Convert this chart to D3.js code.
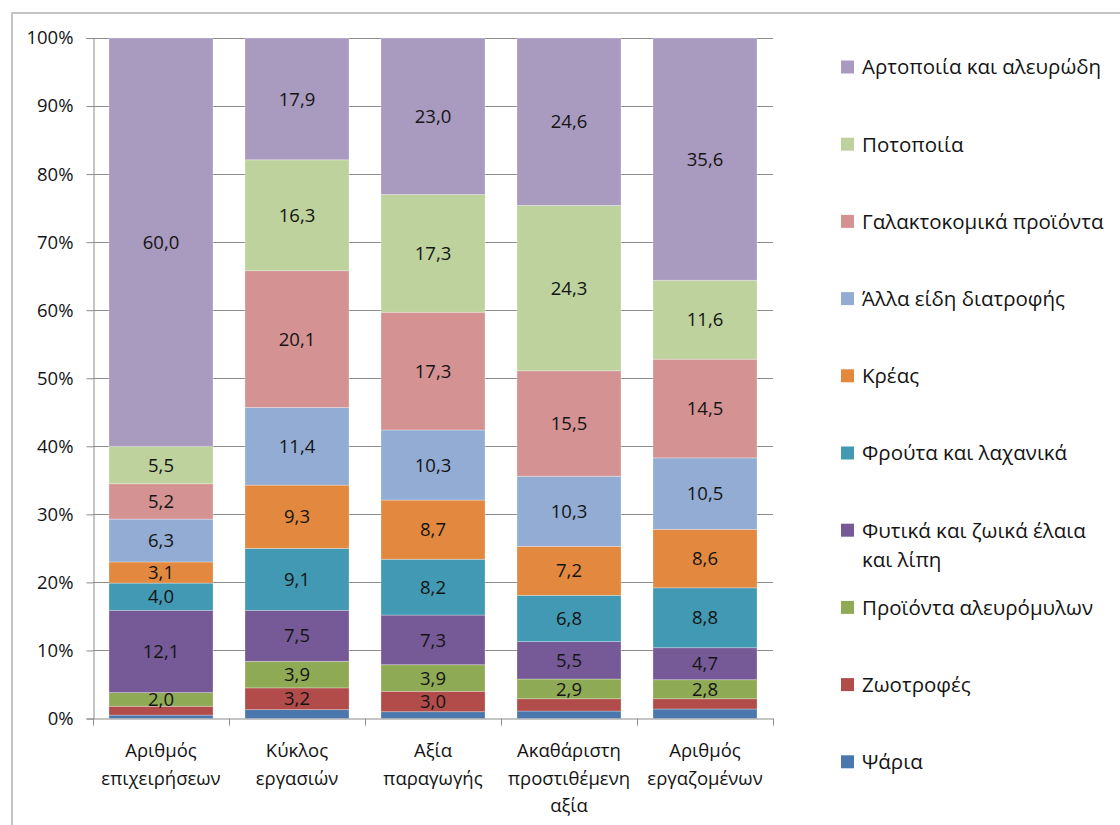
<!DOCTYPE html>
<html>
<head>
<meta charset="utf-8">
<script src="https://cdn.jsdelivr.net/npm/d3@7"></script>
<style>
  html, body { margin: 0; padding: 0; background: #ffffff; }
  svg { display: block; font-family: "Open Sans", "Noto Sans", sans-serif; }
</style>
</head>
<body>
<svg id="chart" width="1120" height="825"></svg>
<script>
// ---- Data ----
const categories = [
  ["Αριθμός", "επιχειρήσεων"],
  ["Κύκλος", "εργασιών"],
  ["Αξία", "παραγωγής"],
  ["Ακαθάριστη", "προστιθέμενη", "αξία"],
  ["Αριθμός", "εργαζομένων"]
];
// series listed bottom -> top of stack
const seriesNames = [
  "Ψάρια",
  "Ζωοτροφές",
  "Προϊόντα αλευρόμυλων",
  "Φυτικά και ζωικά έλαια και λίπη",
  "Φρούτα και λαχανικά",
  "Κρέας",
  "Άλλα είδη διατροφής",
  "Γαλακτοκομικά προϊόντα",
  "Ποτοποιία",
  "Αρτοποιία και αλευρώδη"
];
const psaria        = [0.5, 1.3, 1.0, 1.1, 1.4];
const zootrofes     = [1.3, 3.2, 3.0, 1.8, 1.5];
const aleuromyloi   = [2.0, 3.9, 3.9, 2.9, 2.8];
const elaia         = [12.1, 7.5, 7.3, 5.5, 4.7];
const frouta        = [4.0, 9.1, 8.2, 6.8, 8.8];
const kreas         = [3.1, 9.3, 8.7, 7.2, 8.6];
const alla          = [6.3, 11.4, 10.3, 10.3, 10.5];
const galaktokomika = [5.2, 20.1, 17.3, 15.5, 14.5];
const potopoiia     = [5.5, 16.3, 17.3, 24.3, 11.6];
const artopoiia     = [60.0, 17.9, 23.0, 24.6, 35.6];
const seriesValues = [psaria, zootrofes, aleuromyloi, elaia, frouta, kreas, alla, galaktokomika, potopoiia, artopoiia];
const colors = ["#4a77ad", "#b14c4a", "#8eaa54", "#765a97", "#4199b3", "#e3893f", "#93acd4", "#d49392", "#bdd29c", "#a99ac0"];
const yTicks = [0, 10, 20, 30, 40, 50, 60, 70, 80, 90, 100];
const legendLines = {
  "Φυτικά και ζωικά έλαια και λίπη": ["Φυτικά και ζωικά έλαια", "και λίπη"]
};

// ---- Layout ----
const svg = d3.select("#chart");
const plot = { left: 93, right: 773, top: 38, bottom: 718.5 };
const textColor = "#141414";

// outer frame
svg.append("rect")
  .attr("x", 12).attr("y", 13).attr("width", 1130).attr("height", 830)
  .attr("fill", "none").attr("stroke", "#c4c4c4").attr("stroke-width", 2);

const catKeys = categories.map((c, i) => i);
const x = d3.scaleBand().domain(catKeys).range([plot.left, plot.right]).paddingInner(0.235).paddingOuter(0.1175);
const y = d3.scaleLinear().domain([0, 100]).range([plot.bottom, plot.top]);

// gridlines
svg.append("g").selectAll("line").data(yTicks.filter(t => t > 0)).join("line")
  .attr("x1", plot.left).attr("x2", plot.right)
  .attr("y1", d => Math.round(y(d)) + 0.5).attr("y2", d => Math.round(y(d)) + 0.5)
  .attr("stroke", "#8c8c8c").attr("stroke-width", 1);

// stacked data
const rows = catKeys.map(i => {
  const o = { cat: i };
  seriesNames.forEach((s, k) => { o[s] = seriesValues[k][i]; });
  return o;
});
const stack = d3.stack().keys(seriesNames).offset(d3.stackOffsetExpand);
const stacked = stack(rows);

const fmt = v => d3.format(".1f")(v).replace(".", ",");

const gBars = svg.append("g");
stacked.forEach((layer, k) => {
  const g = gBars.append("g").attr("fill", colors[k]);
  g.selectAll("rect").data(layer).join("rect")
    .attr("x", d => x(d.data.cat))
    .attr("width", x.bandwidth())
    .attr("y", d => y(d[1] * 100))
    .attr("height", d => y(d[0] * 100) - y(d[1] * 100))
    .attr("stroke", "rgba(255,255,255,0.35)").attr("stroke-width", 0.8);
});

// value labels
stacked.forEach((layer, k) => {
  gBars.append("g").selectAll("text").data(layer.filter(d => d.data[seriesNames[k]] >= 2)).join("text")
    .attr("x", d => x(d.data.cat) + x.bandwidth() / 2)
    .attr("y", d => y((d[0] + d[1]) / 2 * 100))
    .attr("dy", "0.36em")
    .attr("text-anchor", "middle")
    .attr("font-size", 18.5)
    .attr("fill", textColor)
    .text(d => fmt(d.data[seriesNames[k]]));
});

// y axis
const yAxis = d3.axisLeft(y).tickValues(yTicks).tickSize(7).tickPadding(13).tickFormat(d => d + "%");
const gy = svg.append("g").attr("transform", `translate(${plot.left + 0.5},0)`).call(yAxis);
gy.select(".domain").attr("stroke", "#8c8c8c");
gy.selectAll(".tick line").attr("stroke", "#8c8c8c");
gy.selectAll(".tick text").attr("font-size", 18.5).attr("fill", textColor).attr("font-family", "'Open Sans', sans-serif");

// x axis line + ticks between categories
const gx = svg.append("g");
gx.append("line").attr("x1", plot.left).attr("x2", plot.right)
  .attr("y1", plot.bottom + 0.5).attr("y2", plot.bottom + 0.5).attr("stroke", "#8c8c8c");
const tickXs = d3.range(categories.length + 1).map(i => plot.left + i * (plot.right - plot.left) / categories.length);
gx.selectAll("line.t").data(tickXs).join("line").attr("class", "t")
  .attr("x1", d => Math.round(d) + 0.5).attr("x2", d => Math.round(d) + 0.5)
  .attr("y1", plot.bottom).attr("y2", plot.bottom + 7).attr("stroke", "#8c8c8c");

// category labels
catKeys.forEach(i => {
  const cx = x(i) + x.bandwidth() / 2;
  const t = gx.append("text").attr("text-anchor", "middle").attr("font-size", 18.5).attr("fill", textColor);
  categories[i].forEach((line, j) => {
    t.append("tspan").attr("x", cx).attr("y", 757 + j * 27.5).text(line);
  });
});

// legend (top = last series)
const legendOrder = seriesNames.slice().reverse();
const legendColors = colors.slice().reverse();
const lg = svg.append("g");
legendOrder.forEach((name, i) => {
  const cy = 67 + i * 77.2;
  lg.append("rect").attr("x", 841).attr("y", cy - 6.5).attr("width", 13).attr("height", 13).attr("fill", legendColors[i]);
  const lines = legendLines[name] || [name];
  const t = lg.append("text").attr("font-size", 20.5).attr("fill", textColor);
  lines.forEach((ln, j) => {
    t.append("tspan").attr("x", 862).attr("y", cy + j * 29).attr("dy", "0.36em").text(ln);
  });
});
</script>
</body>
</html>
